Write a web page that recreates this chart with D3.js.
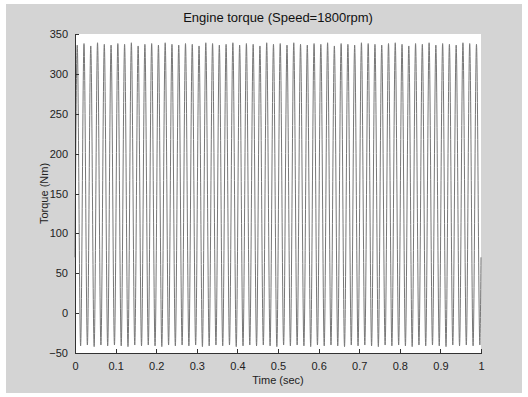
<!DOCTYPE html>
<html>
<head>
<meta charset="utf-8">
<title>Engine torque</title>
<script src="https://d3js.org/d3.v7.min.js"></script>
<style>
body { margin: 0; background: #fff; }
.axis path, .axis line { stroke: #333; shape-rendering: crispEdges; }
.axis text { font: 11px "Liberation Sans", Arial, sans-serif; fill: #222; }
</style>
</head>
<body>
<script>
// peak and trough torque of each firing pulse (Nm)
var peaks = [336, 338, 335, 339, 337, 336, 338, 337, 339, 335, 337, 338, 336, 339, 337, 336,
             338, 337, 335, 339, 338, 336, 337, 339, 336, 338, 337, 335, 339, 337, 338, 336,
             339, 337, 336, 338, 337, 339, 335, 338, 337, 336, 339, 338, 337, 336, 338, 339,
             337, 335, 338, 337, 339, 336, 338, 337, 336, 339, 338, 337];
var troughs = [-41, -40, -42, -40, -41, -40, -41, -42, -40, -41, -40, -41, -42, -40, -41, -40,
               -41, -40, -42, -41, -40, -41, -40, -42, -41, -40, -41, -40, -41, -42, -40, -41,
               -40, -41, -42, -40, -41, -40, -41, -42, -40, -41, -40, -41, -42, -40, -41, -40,
               -41, -42, -40, -41, -40, -41, -42, -40, -41, -40, -41, -40];
var firstPeak = 0.0055, period = 1 / 60;
var startValue = 70, endValue = 70;
var xTicks = [0, 0.1, 0.2, 0.3, 0.4, 0.5, 0.6, 0.7, 0.8, 0.9, 1];
var yTicks = [-50, 0, 50, 100, 150, 200, 250, 300, 350];

var W = 528, H = 397;
var margin = {top: 34, right: 47, bottom: 44, left: 75};
var w = W - margin.left - margin.right, h = H - margin.top - margin.bottom;

var svg = d3.select("body").append("svg").attr("width", W).attr("height", H);
svg.append("rect").attr("x", 6).attr("y", 4).attr("width", 516).attr("height", 389).attr("fill", "#d4d4d4");
var g = svg.append("g").attr("transform", "translate(" + margin.left + "," + margin.top + ")");
g.append("rect").attr("width", w).attr("height", h).attr("fill", "#fff");

var x = d3.scaleLinear().domain([0, 1]).range([0, w]);
var y = d3.scaleLinear().domain([-50, 350]).range([h, 0]);

// build the pulse points: start, then peak/trough pairs, then end
var pts = [[0, startValue]];
peaks.forEach(function(p, i) {
  var tp = firstPeak + i * period;
  pts.push([tp, p]);
  pts.push([tp + period / 2, troughs[i]]);
});
pts.push([1, endValue]);

var line = d3.line().x(function(d) { return x(d[0]); }).y(function(d) { return y(d[1]); })
  .curve(d3.curveMonotoneX);
g.append("path").datum(pts).attr("d", line)
  .attr("fill", "none").attr("stroke", "#777").attr("stroke-width", 1);

g.append("g").attr("class", "axis").attr("transform", "translate(0," + h + ")")
  .call(d3.axisBottom(x).tickValues(xTicks).tickFormat(d3.format("")).tickSizeInner(-4).tickSizeOuter(0).tickPadding(9));
g.append("g").attr("class", "axis")
  .call(d3.axisLeft(y).tickValues(yTicks).tickSizeInner(-4).tickSizeOuter(0).tickPadding(7));

svg.append("text").attr("x", margin.left + w / 2).attr("y", 22).attr("text-anchor", "middle")
  .style("font", "13px 'Liberation Sans', Arial, sans-serif").attr("fill", "#111")
  .text("Engine torque (Speed=1800rpm)");
svg.append("text").attr("x", margin.left + w / 2).attr("y", 384).attr("text-anchor", "middle")
  .style("font", "11px 'Liberation Sans', Arial, sans-serif").attr("fill", "#222")
  .text("Time (sec)");
svg.append("text").attr("transform", "translate(48," + (margin.top + h / 2) + ") rotate(-90)")
  .attr("text-anchor", "middle")
  .style("font", "11px 'Liberation Sans', Arial, sans-serif").attr("fill", "#222")
  .text("Torque (Nm)");
</script>
</body>
</html>
